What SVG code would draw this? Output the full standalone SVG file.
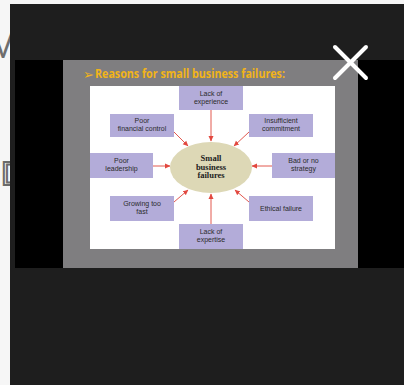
<svg xmlns="http://www.w3.org/2000/svg" width="404" height="385" viewBox="0 0 404 385">
<defs>
<marker id="ah" markerWidth="6" markerHeight="6" refX="5" refY="3" orient="auto" markerUnits="userSpaceOnUse">
<path d="M0,0.5 L5.5,3 L0,5.5 Z" fill="#e2483f"/>
</marker>
</defs>
<style>
.box{fill:#b3acd9;}
.lbl{font-family:"Liberation Sans",Arial,sans-serif;font-size:7px;fill:#2b2b2b;text-anchor:middle;}
.arr{stroke:#e2584f;stroke-width:1;fill:none;marker-end:url(#ah);}
.ctr{font-family:"Liberation Serif","Times New Roman",serif;font-size:8.5px;font-weight:bold;fill:#222;text-anchor:middle;}
</style>
<rect x="0" y="0" width="404" height="385" fill="#f6f6f6"/>
<text x="-12" y="58" font-family="Liberation Sans,Arial,sans-serif" font-size="36" fill="#6e6e6e">M</text>
<text x="1" y="185" font-family="Liberation Sans,Arial,sans-serif" font-size="34" fill="none" stroke="#6a6a6a" stroke-width="2">D</text>
<rect x="10" y="4" width="394" height="381" fill="#1e1e1e"/>
<rect x="15" y="60" width="389" height="208" fill="#000"/>
<rect x="63" y="60" width="295" height="208" fill="#7f7e80"/>
<text x="83" y="79" font-family="DejaVu Sans,sans-serif" font-size="13" fill="#f2b418">➢</text>
<text x="95" y="78" font-family="Open Sans,Liberation Sans,sans-serif" font-size="12" font-weight="bold" fill="#f2b418" textLength="190" lengthAdjust="spacingAndGlyphs">Reasons for small business failures:</text>
<rect x="90" y="86" width="245" height="163" fill="#ffffff"/>
<g id="connectors">
<line class="arr" x1="211" y1="110" x2="211" y2="141"/>
<line class="arr" x1="174" y1="132" x2="188" y2="146"/>
<line class="arr" x1="249" y1="132" x2="234" y2="146"/>
<line class="arr" x1="153" y1="166" x2="170" y2="166"/>
<line class="arr" x1="272" y1="166" x2="252" y2="166"/>
<line class="arr" x1="174" y1="202" x2="188" y2="190"/>
<line class="arr" x1="249" y1="202" x2="235" y2="190"/>
<line class="arr" x1="211" y1="224" x2="211" y2="194"/>
</g>
<g id="center">
<ellipse cx="211" cy="167.5" rx="41" ry="25.5" fill="#ddd8b6"/>
<text class="ctr" x="211" y="161">Small</text>
<text class="ctr" x="211" y="169.5">business</text>
<text class="ctr" x="211" y="178">failures</text>
</g>
<g id="lack-experience">
<rect class="box" x="179" y="86" width="64" height="24"/>
<text class="lbl" x="211" y="96">Lack of</text>
<text class="lbl" x="211" y="104">experience</text>
</g>
<g id="poor-financial">
<rect class="box" x="110" y="114" width="64" height="23"/>
<text class="lbl" x="142" y="123">Poor</text>
<text class="lbl" x="142" y="131">financial control</text>
</g>
<g id="insufficient">
<rect class="box" x="249" y="114" width="64" height="23"/>
<text class="lbl" x="281" y="123">Insufficient</text>
<text class="lbl" x="281" y="131">commitment</text>
</g>
<g id="poor-leadership">
<rect class="box" x="90" y="153" width="63" height="25"/>
<text class="lbl" x="121.5" y="163">Poor</text>
<text class="lbl" x="121.5" y="171">leadership</text>
</g>
<g id="bad-strategy">
<rect class="box" x="272" y="153" width="63" height="25"/>
<text class="lbl" x="303.5" y="163">Bad or no</text>
<text class="lbl" x="303.5" y="171">strategy</text>
</g>
<g id="growing">
<rect class="box" x="110" y="196" width="64" height="25"/>
<text class="lbl" x="142" y="206">Growing too</text>
<text class="lbl" x="142" y="214">fast</text>
</g>
<g id="ethical">
<rect class="box" x="249" y="196" width="64" height="25"/>
<text class="lbl" x="281" y="211">Ethical failure</text>
</g>
<g id="lack-expertise">
<rect class="box" x="179" y="224" width="64" height="25"/>
<text class="lbl" x="211" y="234">Lack of</text>
<text class="lbl" x="211" y="242">expertise</text>
</g>
<g id="close" stroke="#ffffff" stroke-width="4" stroke-linecap="round">
<line x1="335" y1="47" x2="366" y2="78"/>
<line x1="366" y1="47" x2="335" y2="78"/>
</g>
</svg>
